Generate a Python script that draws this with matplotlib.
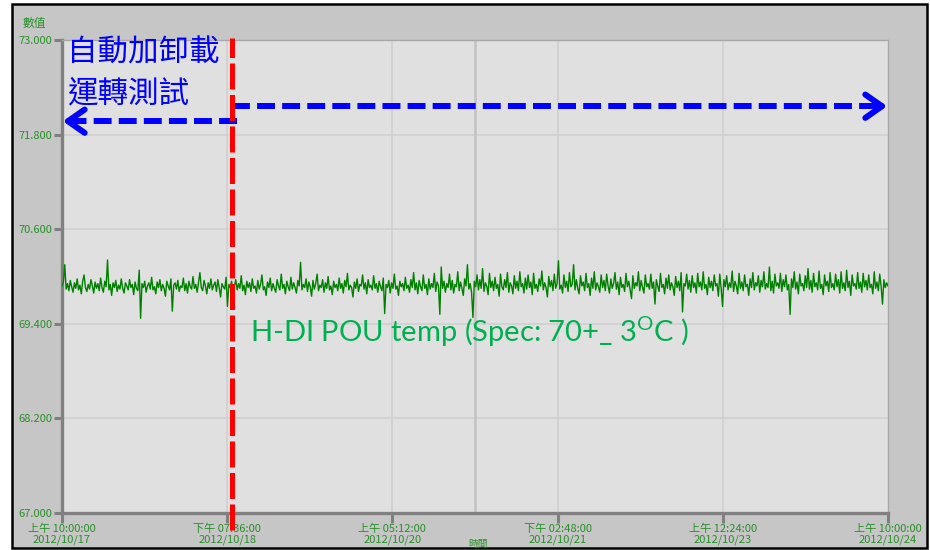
import numpy as np
import pandas as pd
import matplotlib
matplotlib.use("Agg")
import matplotlib.pyplot as plt
from matplotlib.patches import Rectangle

plt.rcParams['font.family'] = ['Noto Sans CJK TC', 'DejaVu Sans']
plt.rcParams['mathtext.fontset'] = 'custom'
plt.rcParams['mathtext.rm'] = 'Lato'

# temperature readings (deg C), evenly sampled 2012/10/17 10:00 -> 2012/10/24 10:00
temp = [
    69.88, 69.93, 70.15, 69.84, 69.91, 69.82, 69.95, 69.87, 69.80, 69.92, 69.85, 69.97, 69.83, 69.89, 69.78, 69.94, 70.02, 69.86, 69.81, 69.90,
    69.84, 69.96, 69.88, 69.79, 69.93, 69.85, 69.91, 69.82, 69.98, 69.86, 69.80, 69.94, 69.87, 70.21, 69.83, 69.90, 69.76, 69.92, 69.86, 69.95,
    69.81, 69.89, 69.84, 69.97, 69.85, 69.79, 69.92, 69.88, 69.83, 69.96, 69.86, 69.90, 69.77, 69.93, 69.85, 69.82, 70.08, 69.47, 69.91, 69.86,
    69.94, 69.80, 69.88, 69.92, 69.84, 69.99, 69.83, 69.87, 69.78, 69.93, 69.86, 69.96, 69.82, 69.90, 69.85, 69.75, 69.94, 69.88, 69.83, 69.97,
    69.56, 69.89, 69.92, 69.84, 69.95, 69.81, 69.88, 69.86, 69.98, 69.82, 69.91, 69.79, 69.94, 69.87, 69.84, 70.00, 69.85, 69.90, 69.80, 69.93,
    70.05, 69.86, 69.82, 69.95, 69.88, 69.78, 69.92, 69.85, 69.97, 69.83, 69.89, 69.93, 69.81, 69.96, 69.86, 69.74, 69.91, 69.87, 69.84, 69.99,
    69.62, 69.90, 69.86, 69.94, 69.80, 69.88, 69.96, 69.83, 69.91, 69.85, 70.01, 69.82, 69.89, 69.77, 69.94, 69.86, 69.92, 69.81, 69.97, 69.85,
    69.88, 69.79, 69.95, 69.84, 69.90, 70.02, 69.83, 69.87, 69.76, 69.93, 69.86, 69.98, 69.82, 69.91, 69.85, 69.80, 69.96, 69.88, 69.83, 70.03,
    69.85, 69.90, 69.78, 69.94, 69.87, 69.82, 69.99, 69.84, 69.92, 69.86, 69.79, 69.95, 69.88, 70.18, 69.83, 69.90, 69.86, 69.97, 69.81, 69.93,
    69.87, 69.75, 69.95, 69.84, 69.91, 70.03, 69.82, 69.89, 69.86, 69.96, 69.80, 69.92, 69.85, 70.00, 69.83, 69.88, 69.77, 69.94, 69.86, 69.90,
    69.82, 69.98, 69.85, 69.91, 69.79, 69.95, 69.87, 70.04, 69.83, 69.89, 69.86, 69.74, 69.93, 69.85, 69.97, 69.81, 69.90, 69.88, 70.02, 69.84,
    69.92, 69.78, 69.96, 69.86, 69.89, 69.83, 70.01, 69.85, 69.91, 69.80, 69.94, 69.87, 69.82, 69.98, 69.53, 69.90, 69.86, 69.95, 69.79, 69.92,
    69.85, 70.03, 69.84, 69.88, 69.76, 69.94, 69.87, 69.91, 69.82, 69.99, 69.85, 69.89, 69.80, 69.96, 69.86, 70.05, 69.83, 69.92, 69.78, 69.95,
    69.87, 69.82, 70.02, 69.85, 69.90, 69.77, 69.97, 69.84, 69.91, 69.86, 70.04, 69.81, 69.93, 69.88, 69.52, 70.12, 69.85, 69.94, 69.80, 69.91,
    69.86, 70.03, 69.83, 69.95, 69.79, 69.90, 69.87, 70.06, 69.82, 69.93, 69.85, 69.76, 69.97, 69.88, 70.15, 69.84, 69.91, 69.80, 69.48, 69.94,
    69.87, 70.02, 69.83, 69.96, 69.85, 70.10, 69.81, 69.92, 69.88, 69.77, 70.04, 69.86, 69.94, 69.82, 69.99, 69.85, 69.90, 69.75, 70.03, 69.87,
    69.83, 69.96, 69.86, 70.05, 69.80, 69.92, 69.88, 69.78, 70.01, 69.85, 69.94, 69.82, 70.06, 69.87, 69.91, 69.79, 69.98, 69.84, 70.02, 69.86,
    69.93, 69.77, 70.04, 69.85, 69.90, 69.81, 69.97, 69.88, 70.07, 69.83, 69.92, 69.86, 69.74, 70.00, 69.87, 69.95, 69.82, 70.03, 69.85, 69.91,
    70.20, 69.84, 69.89, 69.79, 70.02, 69.86, 69.94, 69.81, 70.05, 69.87, 69.90, 70.15, 69.83, 69.96, 69.85, 69.78, 70.01, 69.88, 69.93, 69.82,
    70.04, 69.86, 69.91, 69.76, 69.98, 69.85, 70.06, 69.83, 69.92, 69.87, 69.80, 70.02, 69.86, 69.95, 69.82, 70.03, 69.88, 69.79, 69.97, 69.85,
    69.91, 70.05, 69.84, 69.93, 69.77, 69.99, 69.86, 69.90, 69.81, 70.04, 69.87, 69.94, 69.83, 69.72, 70.01, 69.85, 69.92, 69.88, 70.06, 69.82,
    69.95, 69.86, 69.79, 70.02, 69.87, 69.91, 69.84, 70.03, 69.85, 69.93, 69.65, 69.96, 69.88, 69.81, 70.04, 69.86, 69.90, 69.78, 69.98, 69.85,
    70.02, 69.83, 69.92, 69.87, 69.76, 70.00, 69.86, 69.94, 69.82, 70.05, 69.55, 69.91, 69.88, 70.03, 69.84, 69.95, 69.80, 70.01, 69.86, 69.92,
    69.79, 70.04, 69.87, 69.93, 69.83, 70.06, 69.85, 69.90, 69.77, 69.99, 69.86, 69.94, 69.82, 70.02, 69.88, 69.91, 69.75, 70.03, 69.85, 69.62,
    69.96, 69.87, 70.01, 69.83, 69.92, 69.86, 70.07, 69.81, 69.94, 69.88, 69.78, 70.04, 69.85, 69.93, 69.82, 70.02, 69.87, 69.90, 69.76, 69.97,
    69.86, 70.05, 69.83, 69.92, 69.88, 70.01, 69.80, 69.95, 69.87, 70.06, 69.84, 69.91, 69.86, 70.12, 69.82, 69.94, 69.79, 70.03, 69.88, 69.92,
    69.85, 70.04, 69.81, 69.96, 69.87, 70.02, 69.83, 69.90, 69.52, 69.97, 69.86, 70.06, 69.84, 69.93, 69.78, 70.03, 69.88, 69.91, 69.82, 70.01,
    69.86, 70.10, 69.84, 69.95, 69.80, 70.04, 69.87, 69.92, 69.83, 70.07, 69.85, 69.90, 69.77, 70.02, 69.88, 69.94, 69.81, 70.05, 69.86, 69.91,
    69.83, 70.03, 69.87, 69.96, 69.79, 70.06, 69.85, 69.92, 69.82, 70.08, 69.86, 69.94, 69.76, 70.02, 69.88, 69.91, 69.84, 70.05, 69.85, 69.93,
    69.80, 70.04, 69.87, 69.95, 69.83, 70.02, 69.86, 69.90, 69.78, 70.06, 69.85, 69.93, 69.82, 70.03, 69.88, 69.65, 69.96, 69.86, 69.92, 69.88,
]
t_start = '2012-10-17 10:00'
t_end = '2012-10-24 10:00'

tick_times = ['2012-10-17 10:00', '2012-10-18 19:36', '2012-10-20 05:12',
              '2012-10-21 14:48', '2012-10-23 00:24', '2012-10-24 10:00']
tick_labels = ['上午 10:00:00\n2012/10/17', '下午 07:36:00\n2012/10/18', '上午 05:12:00\n2012/10/20',
               '下午 02:48:00\n2012/10/21', '上午 12:24:00\n2012/10/23', '上午 10:00:00\n2012/10/24']
y_ticks = [67.0, 68.2, 69.4, 70.6, 71.8, 73.0]

cursor_time = '2012-10-20 22:00'
event_time = '2012-10-18 20:35'
arrow_left_y = 71.97
arrow_right_y = 72.16

times = pd.date_range(t_start, t_end, periods=len(temp))

fig = plt.figure(figsize=(9.3, 5.5), dpi=100)
fig.patch.set_facecolor('white')
fig.patches.append(Rectangle((12 / 930, 2 / 550), 915 / 930, 544 / 550, transform=fig.transFigure,
                             facecolor='#c6c6c6', edgecolor='black', linewidth=1.8, zorder=-10))

ax = fig.add_axes([62 / 930, 37 / 550, 826 / 930, 473 / 550])
ax.set_zorder(1)
ax.set_facecolor('#e0e0e0')

green_tick = '#2a8f2a'
for yt in y_ticks[1:-1]:
    ax.axhline(yt, color='#cfcfcf', lw=1.1, zorder=1)
for tt in tick_times[1:-1]:
    ax.axvline(pd.Timestamp(tt), color='#cfcfcf', lw=1.1, zorder=1)
ax.axvline(pd.Timestamp(cursor_time), color='#c2c2c2', lw=1.8, zorder=1)

ax.plot(times, temp, color='#008000', lw=1.0, zorder=3)

ax.set_xlim(pd.Timestamp(t_start), pd.Timestamp(t_end))
ax.set_ylim(y_ticks[0], y_ticks[-1])
ax.set_yticks(y_ticks)
ax.set_yticklabels(['%.3f' % v for v in y_ticks])
ax.set_xticks([pd.Timestamp(t) for t in tick_times])
ax.set_xticklabels(tick_labels, linespacing=0.95)

ax.tick_params(axis='both', colors='#808080', width=2.2, length=6, labelsize=8,
               labelcolor=green_tick, pad=1)
ax.tick_params(axis='x', length=7, pad=1)

for side in ['left', 'bottom']:
    ax.spines[side].set_color('#808080')
    ax.spines[side].set_linewidth(2.4)
for side in ['top', 'right']:
    ax.spines[side].set_color('#a8a8a8')
    ax.spines[side].set_linewidth(1.0)

# red event marker
ev = pd.Timestamp(event_time)
ax.plot([ev, ev], [-0.036, 1.004], transform=ax.get_xaxis_transform(), color='#ff0000',
        lw=3.6, linestyle=(0, (5.2, 1.1)), clip_on=False, zorder=6)

# blue dashed arrows
blue = '#0000ff'
ax.plot([ev + pd.Timedelta(hours=1), pd.Timestamp(t_start) + pd.Timedelta(hours=1)],
        [arrow_left_y, arrow_left_y], color=blue, lw=4.3, linestyle=(0, (3.0, 1.2)),
        solid_capstyle='butt', zorder=5)
ax.annotate('', xy=(pd.Timestamp(t_start) + pd.Timedelta(minutes=10), arrow_left_y),
            xytext=(10, 0), textcoords='offset points',
            arrowprops=dict(arrowstyle='->,head_length=0.6,head_width=0.42', color=blue, lw=4.3,
                            shrinkA=0, shrinkB=0, mutation_scale=20), zorder=5)
ax.plot([ev, pd.Timestamp(t_end) - pd.Timedelta(hours=1)],
        [arrow_right_y, arrow_right_y], color=blue, lw=4.3, linestyle=(0, (3.0, 1.2)),
        solid_capstyle='butt', zorder=5)
ax.annotate('', xy=(pd.Timestamp(t_end) - pd.Timedelta(minutes=10), arrow_right_y),
            xytext=(-10, 0), textcoords='offset points',
            arrowprops=dict(arrowstyle='->,head_length=0.6,head_width=0.42', color=blue, lw=4.3,
                            shrinkA=0, shrinkB=0, mutation_scale=20), zorder=5)

ax.text(0.006, 0.9735, '自動加卸載', transform=ax.transAxes, color=blue, fontsize=22,
        ha='left', va='center', zorder=7)
ax.text(0.006, 0.8850, '運轉測試', transform=ax.transAxes, color=blue, fontsize=22,
        ha='left', va='center', zorder=7)

ax.text(0.2276, 0.3827, 'H-DI POU temp (Spec: 70+_ 3$^{\\mathrm{O}}$C )', transform=ax.transAxes,
        color='#00b050', fontsize=21, family='Lato', ha='left', va='center', zorder=7)

fig.text(23 / 930, 1 - 23 / 550, '數值', color=green_tick, fontsize=8.5, ha='left', va='center')
fig.text(478 / 930, 1 - 549 / 550, '時間', color=green_tick, fontsize=7, ha='center', va='bottom')

fig.savefig('out.png', dpi=100)
